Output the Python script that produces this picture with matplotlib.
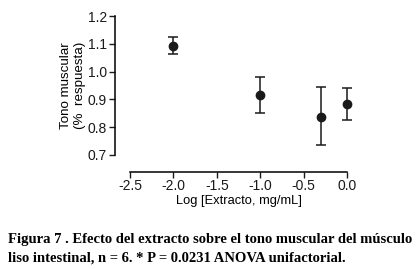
import matplotlib
matplotlib.use("Agg")
import matplotlib.pyplot as plt

log_dose = [-2.0, -1.0, -0.3, 0.0]
tono = [1.093, 0.917, 0.838, 0.882]
err_hi = [0.030, 0.063, 0.105, 0.058]
err_lo = [0.031, 0.066, 0.103, 0.056]

x_ticks = [-2.5, -2.0, -1.5, -1.0, -0.5, 0.0]
y_ticks = [0.7, 0.8, 0.9, 1.0, 1.1, 1.2]

plt.rcParams["font.family"] = ["Liberation Sans", "DejaVu Sans"]

fig = plt.figure(figsize=(4.19, 2.69), dpi=100)
ax = fig.add_axes([130 / 419, 1 - 155 / 269, 217 / 419, 139 / 269])

ax.errorbar(log_dose, tono, yerr=[err_lo, err_hi], fmt="o", color="#1a1a1a",
            ms=6, capsize=3.5, elinewidth=1.1, capthick=1.1, clip_on=False)

ax.set_xlim(-2.5, 0.0)
ax.set_ylim(0.7, 1.2)
ax.set_xticks(x_ticks)
ax.set_yticks(y_ticks)
ax.set_xticklabels([f"{v:.1f}" for v in x_ticks], fontweight="bold", fontsize=8.5)
ax.set_yticklabels([f"{v:.1f}" for v in y_ticks], fontweight="bold", fontsize=8.5)
ax.tick_params(direction="out", length=4, width=1, pad=1.5, colors="#1a1a1a")

for side in ["top", "right"]:
    ax.spines[side].set_visible(False)
ax.spines["left"].set_position(("outward", 11))
ax.spines["bottom"].set_position(("outward", 12))
ax.spines["left"].set_bounds(0.7, 1.2)
ax.spines["bottom"].set_bounds(-2.5, 0.0)
for side in ["left", "bottom"]:
    ax.spines[side].set_linewidth(1.1)

ax.set_ylabel("Tono muscular\n(%  respuesta)", fontsize=9.6, linespacing=1.3,
              labelpad=1)
ax.set_xlabel("Log [Extracto, mg/mL]", fontsize=9.3, labelpad=1)

fig.text(8 / 419, 1 - 240 / 269,
         "Figura 7 . Efecto del extracto sobre el tono muscular del músculo",
         family="Liberation Serif", fontweight="bold", fontsize=10.5, va="center")
fig.text(8 / 419, 1 - 258 / 269,
         "liso intestinal, n = 6. * P = 0.0231 ANOVA unifactorial.",
         family="Liberation Serif", fontweight="bold", fontsize=10.5, va="center")

fig.savefig("out.png", dpi=100)
